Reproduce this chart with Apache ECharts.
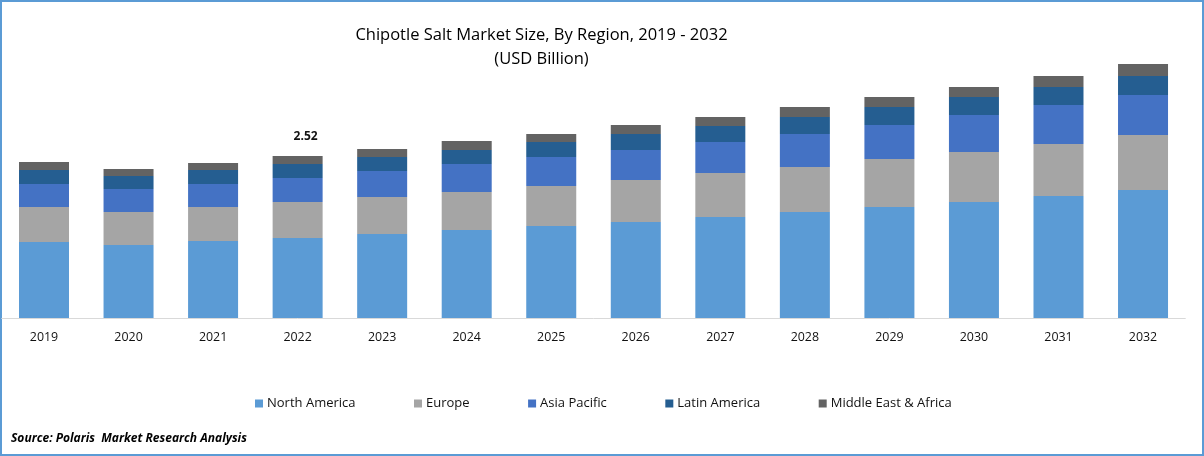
<!DOCTYPE html>
<html>
<head>
<meta charset="utf-8">
<style>html,body{margin:0;padding:0;background:#fff}#c{width:1204px;height:456px}</style>
<script src="https://cdn.jsdelivr.net/npm/echarts@6/dist/echarts.min.js"></script>
</head>
<body>
<div id="c"></div>
<script>
const categories = ['2019','2020','2021','2022','2023','2024','2025','2026','2027','2028','2029','2030','2031','2032'];
const northAmerica = [1.183,1.136,1.198,1.245,1.307,1.370,1.432,1.494,1.572,1.650,1.728,1.805,1.899,1.992];
const europe = [0.545,0.514,0.529,0.560,0.576,0.591,0.623,0.654,0.685,0.700,0.747,0.778,0.809,0.856];
const asiaPacific = [0.358,0.358,0.358,0.374,0.405,0.436,0.451,0.467,0.482,0.514,0.529,0.576,0.607,0.623];
const latinAmerica = [0.218,0.202,0.218,0.218,0.218,0.218,0.233,0.249,0.249,0.265,0.280,0.280,0.280,0.296];
const middleEastAfrica = [0.125,0.109,0.109,0.125,0.125,0.140,0.125,0.140,0.140,0.156,0.156,0.156,0.171,0.187];
const annotatedYear = '2022';
const annotatedText = '2.52';
const font = '"Open Sans", sans-serif';
const mk = (name, data, color) => ({name, type:'bar', stack:'t', data, barWidth:50, itemStyle:{color}});
const topData = middleEastAfrica.map((v,i) => categories[i] === annotatedYear ? {
  value:v,
  label:{show:true, position:'top', offset:[8,-8], formatter:annotatedText, fontFamily:font, fontSize:12, fontWeight:'bold', color:'#111'}
} : v);
const chart = echarts.init(document.getElementById('c'), null, {renderer:'canvas'});
chart.setOption({
  animation:false,
  backgroundColor:'#fff',
  title:{
    text:'Chipotle Salt Market Size, By Region, 2019 - 2032\n(USD Billion)',
    left:536.5, top:18, textAlign:'center',
    textStyle:{fontFamily:font, fontSize:16.5, fontWeight:'normal', color:'#000', lineHeight:24}
  },
  legend:{
    left:250, top:392, itemWidth:8, itemHeight:8, itemGap:58.5, icon:'rect', selectedMode:false,
    textStyle:{fontFamily:font, fontSize:13, color:'#111', padding:[0,0,0,-1]}
  },
  grid:{left:1.73, right:18.7, top:61, height:257},
  xAxis:{
    type:'category', data:categories,
    axisLine:{lineStyle:{color:'#D9D9D9', width:1}},
    axisTick:{show:false},
    axisLabel:{fontFamily:font, fontSize:12.4, color:'#111', margin:13}
  },
  yAxis:{type:'value', min:0, max:4, show:false, splitLine:{show:false}},
  series:[
    mk('North America', northAmerica, '#5B9BD5'),
    mk('Europe', europe, '#A5A5A5'),
    mk('Asia Pacific', asiaPacific, '#4472C4'),
    mk('Latin America', latinAmerica, '#255E91'),
    mk('Middle East & Africa', topData, '#636363')
  ],
  graphic:[
    {type:'rect', silent:true, shape:{x:1,y:1,width:1202,height:454}, style:{fill:'none', stroke:'#5B9BD5', lineWidth:2}},
    {type:'text', left:11, top:433, style:{text:'Source: Polaris  Market Research Analysis', font:'italic bold 12px "Open Sans", sans-serif', fill:'#000'}}
  ]
});
</script>
</body>
</html>
